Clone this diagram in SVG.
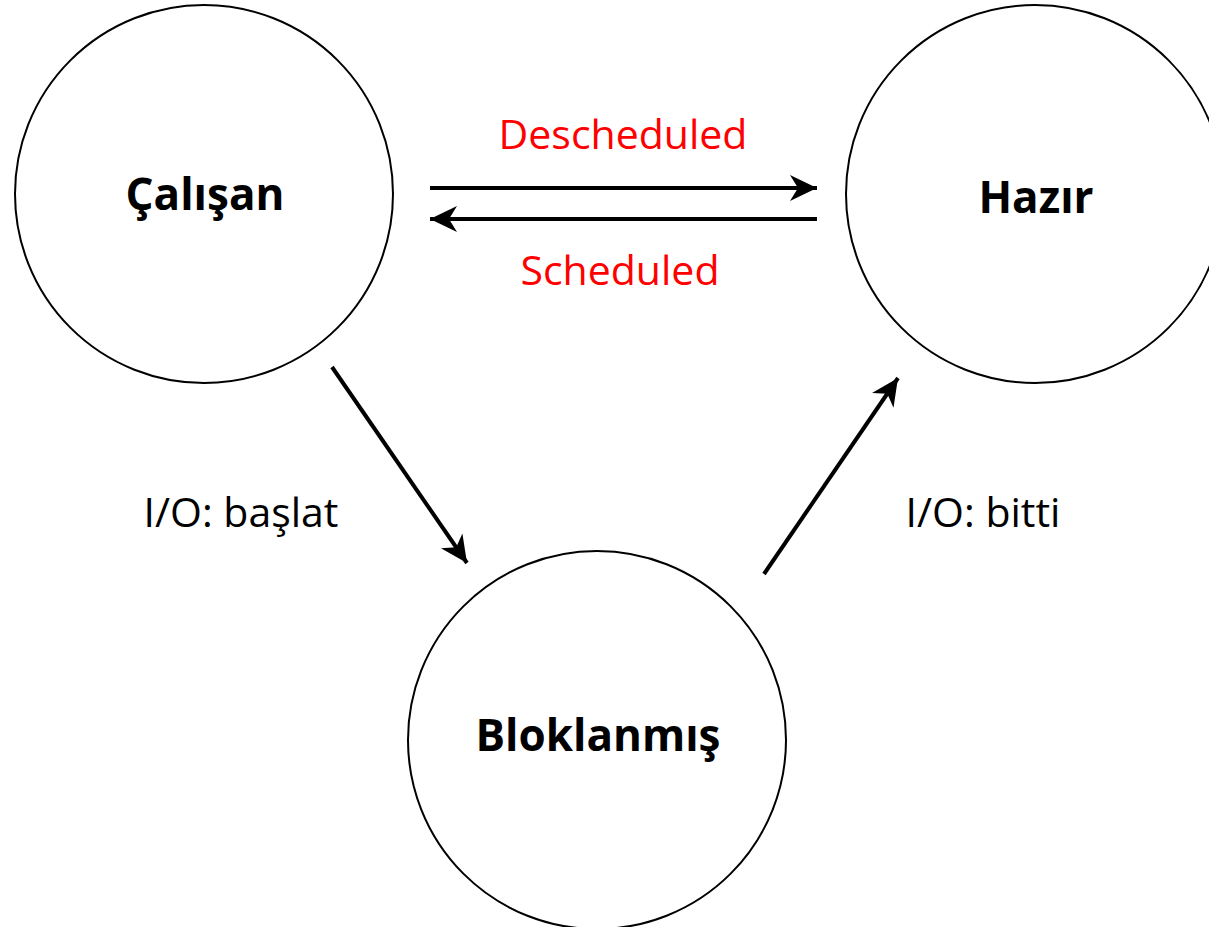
<svg xmlns="http://www.w3.org/2000/svg" width="1209" height="927" viewBox="0 0 1209 927">
<style>
.node{fill:#fff;stroke:#000;stroke-width:2}
.nl{font-family:"Open Sans","Noto Sans","Liberation Sans",sans-serif;font-weight:bold;font-size:44px;fill:#000;text-anchor:middle}
.el{font-family:"Open Sans","Noto Sans","Liberation Sans",sans-serif;font-size:41px;text-anchor:middle}
.conn{stroke:#000;stroke-width:4;fill:none;marker-end:url(#ah)}
</style>
<defs>
<marker id="ah" markerUnits="userSpaceOnUse" markerWidth="30" markerHeight="30" viewBox="0 0 30 30" refX="28" refY="15" orient="auto">
<path d="M1,2 L28,15 L1,28 L9,15 Z" fill="#000"/>
</marker>
</defs>
<rect width="1209" height="927" fill="#fff"/>
<g id="calisan"><circle class="node" cx="204" cy="194" r="189"/><text class="nl" x="205" y="210">Çalışan</text></g>
<g id="hazir"><circle class="node" cx="1035" cy="194" r="189"/><text class="nl" x="1036" y="213">Hazır</text></g>
<g id="bloklanmis"><circle class="node" cx="597" cy="740" r="189"/><text class="nl" x="598" y="751">Bloklanmış</text></g>
<g id="connectors">
<line class="conn" x1="430" y1="188" x2="817" y2="188"/>
<line class="conn" x1="817" y1="219" x2="430" y2="219"/>
<line class="conn" x1="332" y1="367" x2="467" y2="563"/>
<line class="conn" x1="764" y1="574" x2="898" y2="378"/>
</g>
<g id="labels">
<text class="el" x="623" y="149" fill="#ff0000">Descheduled</text>
<text class="el" x="620" y="285" fill="#ff0000">Scheduled</text>
<text class="el" x="241" y="527" fill="#000">I/O: başlat</text>
<text class="el" x="983" y="527" fill="#000">I/O: bitti</text>
</g>
</svg>
